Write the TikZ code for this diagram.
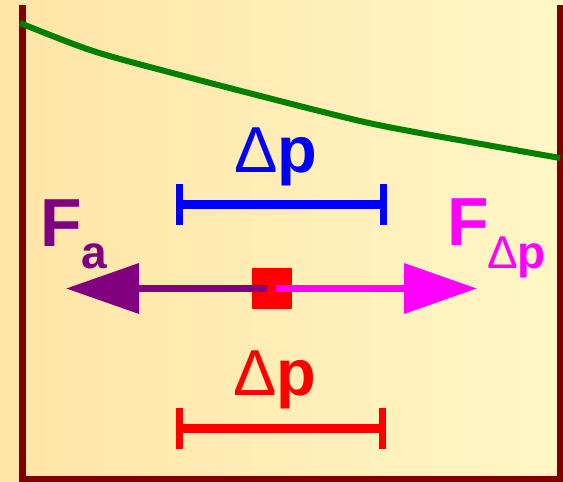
\documentclass[tikz,border=0pt]{standalone}
\usepackage{fontspec}
\setmainfont{Liberation Sans}
\usetikzlibrary{arrows.meta}
\definecolor{bgleft}{HTML}{FFE4A6}
\definecolor{bgright}{HTML}{FFF7C6}
\definecolor{wallc}{HTML}{7F0000}
\definecolor{levelc}{HTML}{008000}
\definecolor{purp}{HTML}{800080}
\definecolor{magc}{HTML}{FF00FF}
\tikzset{
  big/.style={inner sep=0pt, outer sep=0pt, anchor=base west, font=\fontsize{68}{68}\selectfont},
  bigdp/.style={inner sep=0pt, outer sep=0pt, anchor=base west, font=\fontsize{65}{65}\selectfont},
  small/.style={inner sep=0pt, outer sep=0pt, anchor=base west, font=\fontsize{46}{46}\selectfont},
  wall/.style={draw=wallc, line width=7pt, line join=miter},
  barline/.style={line width=8.5pt},
  tick/.style={line width=7pt},
  force/.style={line width=7pt, -{Triangle[length=73pt,width=49pt]}},
}
\begin{document}
\begin{tikzpicture}[x=1pt,y=-1pt]
\useasboundingbox (0,0) rectangle (563,482);
\shade[left color=bgleft, right color=bgright] (0,0) rectangle (563,482);
% container
\draw[wall] (22,5) -- (22,479) -- (560,479) -- (560,5);
% liquid level
\draw[levelc, line width=6pt] plot[smooth, tension=0.5] coordinates {(20,23) (93,51) (180,75) (280,101) (360,121) (420,133) (560,158)};
% blue delta p
\node[bigdp, text=blue] (dpblue) at (234,172) {Δ\textbf{p}};
\coordinate (b1) at (179.5,204.5);
\coordinate (b2) at (383,204.5);
\draw[blue, barline] (b1) -- (b2);
\draw[blue, tick] ([yshift=-20.5pt]b1) -- ([yshift=20.5pt]b1);
\draw[blue, tick] ([yshift=-20.5pt]b2) -- ([yshift=20.5pt]b2);
% red delta p
\node[bigdp, text=red] (dpred) at (233,395) {Δ\textbf{p}};
\coordinate (r1) at (179,428.5);
\coordinate (r2) at (382.5,428.5);
\draw[red, barline] (r1) -- (r2);
\draw[red, tick] ([yshift=-20.5pt]r1) -- ([yshift=20.5pt]r1);
\draw[red, tick] ([yshift=-20.5pt]r2) -- ([yshift=20.5pt]r2);
% mass element
\node[fill=red, minimum width=40pt, minimum height=41pt, inner sep=0pt] (mass) at (272,288.5) {};
% forces
\coordinate (pa) at (267,288.5);
\coordinate (pb) at (66,288.5);
\coordinate (ma) at (276,288.5);
\coordinate (mb) at (477,288.5);
\draw[purp, force] (pa) -- (pb);
\draw[magc, force] (ma) -- (mb);
% labels
\node[big, text=purp] (Fa) at (41,246) {\textbf{F}};
\node[small, text=purp] (Fasub) at (81,268) {\textbf{a}};
\node[big, text=magc] (Fdp) at (447,245) {\textbf{F}};
\node[small, text=magc] (Fdpsub) at (487,268) {Δ\textbf{p}};
\end{tikzpicture}
\end{document}
